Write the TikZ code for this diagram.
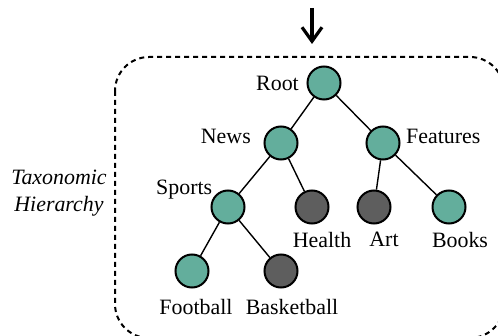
\documentclass[tikz,border=0pt,11pt]{standalone}
\usepackage{fontspec}
\setmainfont{Liberation Serif}
\usetikzlibrary{arrows.meta}
\definecolor{keptgreen}{HTML}{63AE9C}
\definecolor{prunedgray}{HTML}{5E5E5E}

\begin{document}
\begin{tikzpicture}[x=0.5pt,y=-0.5pt,
    kept/.style={circle,draw,line width=1pt,fill=keptgreen,minimum size=16.5pt,inner sep=0pt},
    pruned/.style={kept,fill=prunedgray},
    branch/.style={line width=0.7pt}]
 	\useasboundingbox (0,0) rectangle (498,336);
 	\clip (0,0) rectangle (498,336);
 	\draw[line width=1pt,dash pattern=on 2.5pt off 2pt,rounded corners=17pt] (115,57) rectangle (504,338);
 	\coordinate (query) at (312,8);
 	\coordinate (entry) at (312,44);
 	\draw[-{Straight Barb[length=7pt,width=10pt]},line width=1.6pt] (query) -- (entry);
 	\node[kept,label={180:Root}] (root) at (324,83) {};
 	\node[kept,label={[label distance=2.5pt,yshift=3.5pt]180:News}] (news) at (281,143) {};
 	\node[kept,label={[label distance=-1pt,yshift=3.5pt]0:Features}] (features) at (383,143) {};
 	\node[kept,label={[anchor=base east,inner sep=0pt,xshift=-1.5pt]135:Sports}] (sports) at (228,207) {};
 	\node[pruned,label={[xshift=5pt]270:Health}] (health) at (312,207) {};
 	\node[pruned,label={[xshift=5pt]270:Art}] (art) at (374,207) {};
 	\node[kept,label={[xshift=5.5pt]270:Books}] (books) at (449,207) {};
 	\node[kept,label={[xshift=2pt,yshift=-1.5pt]270:Football}] (football) at (192,271) {};
 	\node[pruned,label={[xshift=5.5pt,yshift=-1.5pt]270:Basketball}] (basketball) at (281,271) {};
 	\draw[branch] (root) -- (news);
 	\draw[branch] (root) -- (features);
 	\draw[branch] (news) -- (sports);
 	\draw[branch] (news) -- (health);
 	\draw[branch] (features) -- (art);
 	\draw[branch] (features) -- (books);
 	\draw[branch] (sports) -- (football);
 	\draw[branch] (sports) -- (basketball);
    \node[align=center,font=\itshape] (taxonomy) at (59,193) {Taxonomic\\Hierarchy};
\end{tikzpicture}
\end{document}
